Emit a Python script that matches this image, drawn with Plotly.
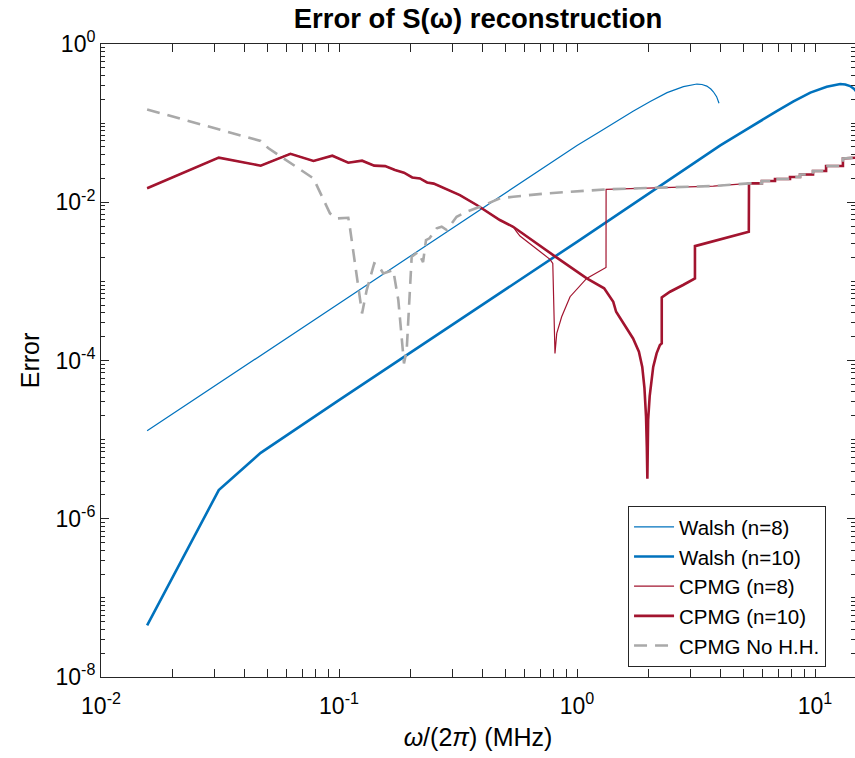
import plotly.graph_objects as go

# ---------------- data ----------------
walsh8_x = [0.015625, 0.1, 0.5, 1.0, 1.25, 1.57, 1.72, 2.03, 2.39, 2.80, 3.0, 3.19, 3.35, 3.51, 3.65, 3.74, 3.86, 3.95]
walsh8_y = [1.29e-5, 5.25e-4, 0.0132, 0.0522, 0.0785, 0.120, 0.141, 0.188, 0.243, 0.289, 0.304, 0.312, 0.308, 0.294, 0.270, 0.249, 0.216, 0.178]

walsh10_x = [0.015625, 0.03125, 0.046875, 0.1, 1.0, 4.0, 5.0, 6.28, 6.88, 8.12, 9.56, 11.2, 12.0, 12.76, 13.4, 14.04, 14.6, 14.96, 15.44, 15.8]
walsh10_y = [4.5e-8, 2.3e-6, 6.8e-6, 3.16e-5, 3.16e-3, 0.0522, 0.0785, 0.120, 0.141, 0.188, 0.243, 0.289, 0.304, 0.312, 0.308, 0.294, 0.270, 0.249, 0.216, 0.178]

# common high-frequency staircase shared by the CPMG curves
stair_x = [5.28, 5.98, 5.98, 6.79, 6.79, 7.85, 7.85, 8.65, 8.65, 9.81, 9.81, 11.13, 11.13, 13.1, 13.1, 15.0]
stair_y = [0.01733, 0.01733, 0.01853, 0.01853, 0.01964, 0.01964, 0.02083, 0.02083, 0.02239, 0.02239,
           0.02479, 0.02479, 0.0287, 0.0287, 0.0357, 0.0367]

cpmg10_x = [0.015625, 0.03125, 0.046875, 0.0625, 0.078125, 0.09375, 0.109375, 0.125, 0.140625, 0.15625,
            0.171875, 0.1875, 0.203125, 0.21875, 0.234375, 0.25, 0.322, 0.379, 0.474, 0.539,
            0.794, 1.099, 1.30, 1.42, 1.46, 1.59, 1.72, 1.82, 1.88, 1.92,
            1.95, 1.965, 1.975, 1.99, 2.02, 2.09, 2.16, 2.23, 2.27, 2.27,
            2.46, 2.79, 3.13, 3.13, 5.27]
cpmg10_y = [0.0150, 0.0366, 0.0290, 0.0410, 0.0332, 0.0387, 0.0316, 0.0335, 0.0290, 0.0286,
            0.0255, 0.0236, 0.0206, 0.0200, 0.0178, 0.0172, 0.0123, 0.00923, 0.00596, 0.0049,
            0.00215, 0.00109, 8.17e-4, 5.52e-4, 4.13e-4, 2.8e-4, 1.9e-4, 1.29e-4, 8.3e-5, 4.5e-5,
            1.95e-5, 8.1e-6, 3.2e-6, 1.78e-5, 3.55e-5, 8.3e-5, 1.23e-4, 1.57e-4, 1.64e-4, 6.27e-4,
            7.4e-4, 9.0e-4, 1.09e-3, 2.79e-3, 4.24e-3]

cpmg8_tail_x = [0.557, 0.576, 0.770, 0.791, 0.808, 0.822, 0.862, 0.935, 1.098, 1.324, 1.325, 2.09, 3.74]
cpmg8_tail_y = [4.24e-3, 3.74e-3, 1.90e-3, 1.69e-3, 1.23e-4, 2.2e-4, 3.57e-4, 6.4e-4, 1.09e-3, 1.5e-3,
                0.01456, 0.01524, 0.01603]

nohh_x = [0.015625, 0.03125, 0.046875, 0.0504, 0.0625, 0.078125, 0.0916, 0.0978, 0.109375, 0.111,
          0.125, 0.1307, 0.140625, 0.146, 0.1535, 0.169, 0.1775, 0.1875, 0.1925, 0.202,
          0.2148, 0.2255, 0.232, 0.240, 0.2573, 0.270, 0.2835, 0.312, 0.344, 0.391,
          0.475, 0.540, 0.746, 1.333, 2.09, 3.74]
nohh_y = [0.149, 0.0841, 0.0594, 0.0484, 0.031, 0.020, 0.00724, 0.00625, 0.00637, 0.0049,
          3.94e-4, 7.76e-4, 1.69e-3, 1.61e-3, 1.26e-3, 1.39e-3, 5.8e-4, 9.2e-5, 1.35e-4, 2.05e-3,
          2.35e-3, 1.75e-3, 3.33e-3, 3.5e-3, 4.68e-3, 4.9e-3, 4.45e-3, 6.56e-3, 7.6e-3, 8.77e-3,
          0.0112, 0.01175, 0.01294, 0.01456, 0.01524, 0.01603]

x_tick_vals = [0.01, 0.1, 1, 10]
x_tick_text = ["10<sup>-2</sup>", "10<sup>-1</sup>", "10<sup>0</sup>", "10<sup>1</sup>"]
y_tick_vals = [1e-8, 1e-6, 1e-4, 1e-2, 1]
y_tick_text = ["10<sup>-8</sup>", "10<sup>-6</sup>", "10<sup>-4</sup>", "10<sup>-2</sup>", "10<sup>0</sup>"]

BLUE = "#0072BD"
RED = "#A2142F"
GRAY = "#A9A9A9"
AX = "#262626"

# minor tick positions (2..9 of every decade, plus unlabeled decades)
x_minor = [m * 10.0 ** e for e in range(-2, 2) for m in range(1, 10)]
y_minor = [m * 10.0 ** e for e in range(-8, 0) for m in range(1, 10)]

# ---------------- figure ----------------
fig = go.Figure()
fig.add_trace(go.Scatter(x=walsh8_x, y=walsh8_y, mode="lines", name="Walsh (n=8)",
                         line=dict(color=BLUE, width=1.2)))
fig.add_trace(go.Scatter(x=walsh10_x, y=walsh10_y, mode="lines", name="Walsh (n=10)",
                         line=dict(color=BLUE, width=2.6)))
fig.add_trace(go.Scatter(x=cpmg10_x[:20] + cpmg8_tail_x + stair_x,
                         y=cpmg10_y[:20] + cpmg8_tail_y + stair_y,
                         mode="lines", name="CPMG (n=8)", line=dict(color=RED, width=1.2)))
fig.add_trace(go.Scatter(x=cpmg10_x + stair_x, y=cpmg10_y + stair_y, mode="lines",
                         name="CPMG (n=10)", line=dict(color=RED, width=2.6)))
fig.add_trace(go.Scatter(x=nohh_x + stair_x, y=nohh_y + stair_y, mode="lines", yaxis="y2",
                         name="CPMG No H.H.", line=dict(color=GRAY, width=2.6, dash="13px,8px")))

axis_common = dict(
    type="log", showline=True, linecolor=AX, linewidth=1, ticks="inside", ticklen=8,
    tickwidth=1, tickcolor=AX, showgrid=False, zeroline=False,
    tickfont=dict(size=23, color="black"), tickmode="array",
)

fig.update_layout(
    width=855, height=758,
    margin=dict(l=101, r=0, t=44, b=81),
    plot_bgcolor="white", paper_bgcolor="white",
    font=dict(family="Liberation Sans, Arial, sans-serif", color="black"),
    title=dict(text="<b>Error of S(ω) reconstruction</b>", x=0.5, xref="paper", xanchor="center",
               y=1 - 18 / 758, yref="container", yanchor="middle", font=dict(size=27.5, color="black")),
    xaxis=dict(axis_common, range=[-2, 1.168], mirror="allticks",
               tickvals=x_tick_vals, ticktext=x_tick_text, ticklabelstandoff=8,
               minor=dict(ticks="inside", ticklen=4, tickwidth=1, tickcolor=AX,
                          tickmode="array", tickvals=x_minor, showgrid=False),
               title=dict(text="<i>ω</i>/(2<i>π</i>) (MHz)", font=dict(size=25), standoff=10)),
    yaxis=dict(axis_common, range=[-8, 0], tickvals=y_tick_vals, ticktext=y_tick_text,
               minor=dict(ticks="inside", ticklen=4, tickwidth=1, tickcolor=AX,
                          tickmode="array", tickvals=y_minor, showgrid=False),
               title=dict(text="Error", font=dict(size=25), standoff=8)),
    yaxis2=dict(type="log", range=[-8, 0], overlaying="y", side="right", anchor="x",
                showline=False, ticks="inside", ticklen=8, tickcolor=AX, showticklabels=False,
                showgrid=False, zeroline=False, tickmode="array", tickvals=y_tick_vals,
                minor=dict(ticks="inside", ticklen=4, tickcolor=AX, tickmode="array",
                           tickvals=y_minor, showgrid=False)),
    legend=dict(x=0.699, y=0.270, xanchor="left", yanchor="top", bgcolor="white",
                bordercolor=AX, borderwidth=1, font=dict(size=20.5, color="black"),
                tracegroupgap=0, itemwidth=40),
)

fig.write_html("out.html")
